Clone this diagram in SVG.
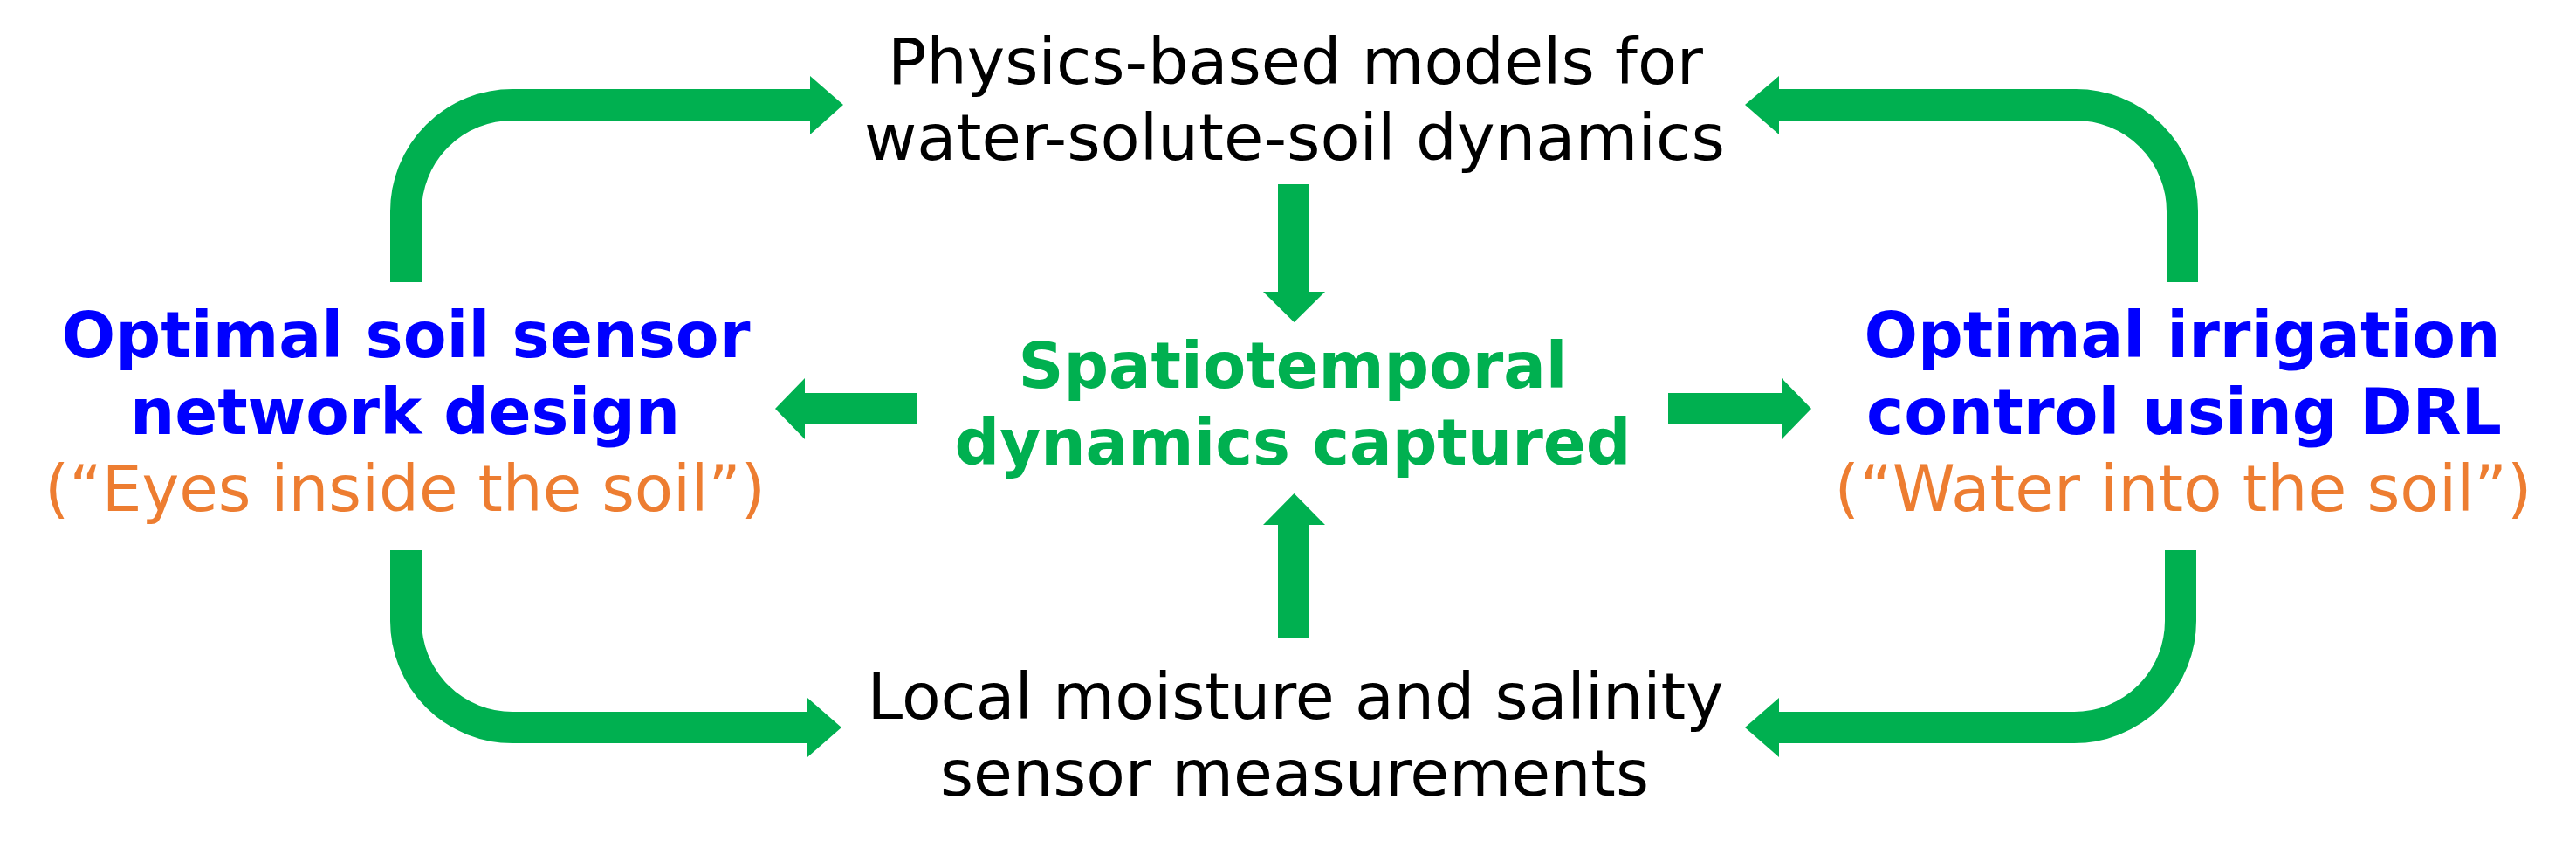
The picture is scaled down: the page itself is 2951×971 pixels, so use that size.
<svg xmlns="http://www.w3.org/2000/svg" width="2951" height="971" viewBox="0 0 2951 971">
<style>
text{font-family:"DejaVu Sans","Verdana",sans-serif;font-size:73px;text-anchor:middle}
.blk{fill:#000000}
.blu{fill:#0000FF;font-weight:bold}
.grn{fill:#00B050;font-weight:bold}
.org{fill:#ED7D31}
.ln{fill:none;stroke:#00B050;stroke-width:36;stroke-linecap:butt}
.hd{fill:#00B050}
</style>
<rect width="2951" height="971" fill="#FFFFFF"/>
<g id="connectors">
<path class="ln" d="M465,323 V242 A122,122 0 0 1 587,120 H930"/>
<polygon class="hd" points="928,87 966,120 928,154"/>
<path class="ln" d="M2500,323 V242 A122,122 0 0 0 2378,120 H2036"/>
<polygon class="hd" points="2038,87 1999,120 2038,154"/>
<path class="ln" d="M465,630 V711 A122,122 0 0 0 587,833 H927"/>
<polygon class="hd" points="925,799 964,833 925,867"/>
<path class="ln" d="M2498,630 V711 A122,122 0 0 1 2376,833 H2036"/>
<polygon class="hd" points="2038,799 1999,833 2038,867"/>
<path class="ln" d="M1482,211 V336"/>
<polygon class="hd" points="1447,334 1518,334 1482.5,369"/>
<path class="ln" d="M1482,730 V599"/>
<polygon class="hd" points="1447,601 1518,601 1482.5,565"/>
<path class="ln" d="M1051,468 H920"/>
<polygon class="hd" points="922,433 922,503 888,468"/>
<path class="ln" d="M1911,468 H2043"/>
<polygon class="hd" points="2041,433 2041,503 2075,468"/>
</g>
<g id="node-physics">
<text class="blk" x="1484" y="96" textLength="934" lengthAdjust="spacingAndGlyphs">Physics-based models for</text>
<text class="blk" x="1483" y="183" textLength="986" lengthAdjust="spacingAndGlyphs">water-solute-soil dynamics</text>
</g>
<g id="node-sensor-design">
<text class="blu" x="465" y="409" textLength="789" lengthAdjust="spacingAndGlyphs">Optimal soil sensor</text>
<text class="blu" x="464" y="497" textLength="630" lengthAdjust="spacingAndGlyphs">network design</text>
<text class="org" x="464" y="585" textLength="826" lengthAdjust="spacingAndGlyphs">(“Eyes inside the soil”)</text>
</g>
<g id="node-spatiotemporal">
<text class="grn" x="1481" y="444" textLength="629" lengthAdjust="spacingAndGlyphs">Spatiotemporal</text>
<text class="grn" x="1481" y="532" textLength="775" lengthAdjust="spacingAndGlyphs">dynamics captured</text>
</g>
<g id="node-irrigation">
<text class="blu" x="2500" y="409" textLength="729" lengthAdjust="spacingAndGlyphs">Optimal irrigation</text>
<text class="blu" x="2502" y="497" textLength="728" lengthAdjust="spacingAndGlyphs">control using DRL</text>
<text class="org" x="2501" y="585" textLength="799" lengthAdjust="spacingAndGlyphs">(“Water into the soil”)</text>
</g>
<g id="node-measurements">
<text class="blk" x="1484" y="823" textLength="981" lengthAdjust="spacingAndGlyphs">Local moisture and salinity</text>
<text class="blk" x="1483" y="911" textLength="812" lengthAdjust="spacingAndGlyphs">sensor measurements</text>
</g>
</svg>
